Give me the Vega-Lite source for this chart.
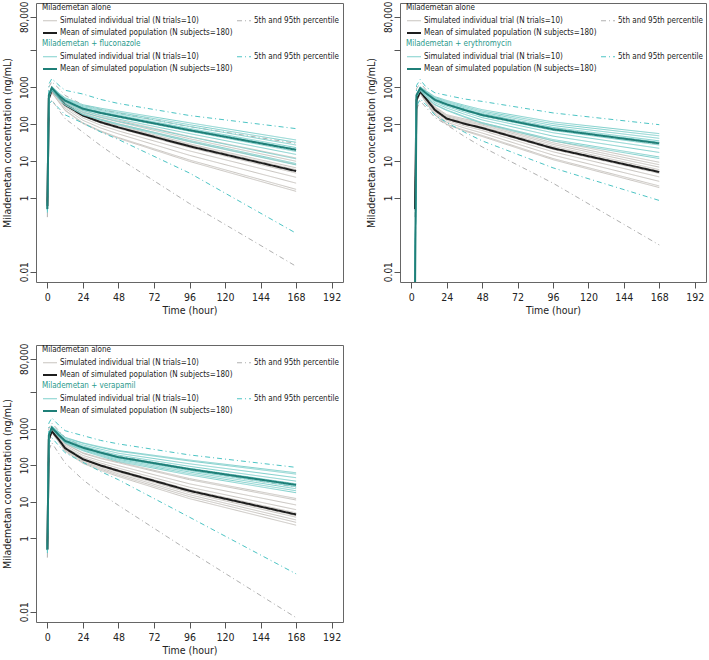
{
"$schema":"https://vega.github.io/schema/vega-lite/v6.json",
"padding":{"left":1,"top":0,"right":0,"bottom":0},
"bounds":"flush",
"columns":2,
"spacing":{"row":63,"column":57},
"resolve":{"scale":{"color":"independent","strokeDash":"independent","strokeWidth":"independent"}},
"config":{
"font":"'DejaVu Sans Condensed','Liberation Sans',sans-serif",
"view":{"stroke":"#666","strokeWidth":1},
"axis":{"grid":false,"domain":false,"tickColor":"#555","tickSize":6,"labelFontSize":10.5,"titleFontSize":10.5,"titleFontWeight":"normal","labelColor":"#222","titleColor":"#222","labelFont":"'DejaVu Sans Condensed','Liberation Sans',sans-serif","titleFont":"'DejaVu Sans Condensed','Liberation Sans',sans-serif"},
"legend":{"titleFontSize":8,"titleFontWeight":"normal","labelFontSize":8,"titleFont":"'DejaVu Sans Condensed','Liberation Sans',sans-serif","labelFont":"'DejaVu Sans Condensed','Liberation Sans',sans-serif","symbolType":"stroke","symbolSize":196,"columnPadding":2,"rowPadding":0,"titlePadding":1,"padding":0,"labelOffset":2,"labelColor":"#222","labelLimit":400,"titleLimit":400,"columns":2,"orient":"none"}
},
"datasets":{
"p1a":[
{"s":"a","k":"1","t":0,"c":0.65},{"s":"a","k":"1","t":1,"c":540},{"s":"a","k":"1","t":3,"c":960},{"s":"a","k":"1","t":8,"c":640},{"s":"a","k":"1","t":12,"c":422},{"s":"a","k":"1","t":24,"c":236},{"s":"a","k":"1","t":36,"c":165},{"s":"a","k":"1","t":48,"c":127},{"s":"a","k":"1","t":96,"c":46},{"s":"a","k":"1","t":168,"c":12},
{"s":"a","k":"2","t":0,"c":0.64},{"s":"a","k":"2","t":1,"c":532},{"s":"a","k":"2","t":3,"c":932},{"s":"a","k":"2","t":8,"c":606},{"s":"a","k":"2","t":12,"c":398},{"s":"a","k":"2","t":24,"c":217},{"s":"a","k":"2","t":36,"c":150},{"s":"a","k":"2","t":48,"c":114},{"s":"a","k":"2","t":96,"c":40},{"s":"a","k":"2","t":168,"c":9.8},
{"s":"a","k":"3","t":0,"c":0.63},{"s":"a","k":"3","t":1,"c":521},{"s":"a","k":"3","t":3,"c":904},{"s":"a","k":"3","t":8,"c":576},{"s":"a","k":"3","t":12,"c":375},{"s":"a","k":"3","t":24,"c":200},{"s":"a","k":"3","t":36,"c":136},{"s":"a","k":"3","t":48,"c":102},{"s":"a","k":"3","t":96,"c":34},{"s":"a","k":"3","t":168,"c":8},
{"s":"a","k":"4","t":0,"c":0.61},{"s":"a","k":"4","t":1,"c":510},{"s":"a","k":"4","t":3,"c":876},{"s":"a","k":"4","t":8,"c":547},{"s":"a","k":"4","t":12,"c":354},{"s":"a","k":"4","t":24,"c":185},{"s":"a","k":"4","t":36,"c":123},{"s":"a","k":"4","t":48,"c":91},{"s":"a","k":"4","t":96,"c":29},{"s":"a","k":"4","t":168,"c":6.5},
{"s":"a","k":"5","t":0,"c":0.6},{"s":"a","k":"5","t":1,"c":505},{"s":"a","k":"5","t":3,"c":862},{"s":"a","k":"5","t":8,"c":532},{"s":"a","k":"5","t":12,"c":342},{"s":"a","k":"5","t":24,"c":176},{"s":"a","k":"5","t":36,"c":117},{"s":"a","k":"5","t":48,"c":85},{"s":"a","k":"5","t":96,"c":27},{"s":"a","k":"5","t":168,"c":5.8},
{"s":"a","k":"6","t":0,"c":0.59},{"s":"a","k":"6","t":1,"c":494},{"s":"a","k":"6","t":3,"c":835},{"s":"a","k":"6","t":8,"c":505},{"s":"a","k":"6","t":12,"c":322},{"s":"a","k":"6","t":24,"c":162},{"s":"a","k":"6","t":36,"c":106},{"s":"a","k":"6","t":48,"c":76},{"s":"a","k":"6","t":96,"c":23},{"s":"a","k":"6","t":168,"c":4.7},
{"s":"a","k":"7","t":0,"c":0.58},{"s":"a","k":"7","t":1,"c":481},{"s":"a","k":"7","t":3,"c":802},{"s":"a","k":"7","t":8,"c":472},{"s":"a","k":"7","t":12,"c":297},{"s":"a","k":"7","t":24,"c":146},{"s":"a","k":"7","t":36,"c":93},{"s":"a","k":"7","t":48,"c":65},{"s":"a","k":"7","t":96,"c":18.7},{"s":"a","k":"7","t":168,"c":3.6},
{"s":"a","k":"8","t":0,"c":0.56},{"s":"a","k":"8","t":1,"c":464},{"s":"a","k":"8","t":3,"c":760},{"s":"a","k":"8","t":8,"c":431},{"s":"a","k":"8","t":12,"c":268},{"s":"a","k":"8","t":24,"c":126},{"s":"a","k":"8","t":36,"c":78},{"s":"a","k":"8","t":48,"c":54},{"s":"a","k":"8","t":96,"c":14.2},{"s":"a","k":"8","t":168,"c":2.5},
{"s":"a","k":"9","t":0,"c":0.54},{"s":"a","k":"9","t":1,"c":447},{"s":"a","k":"9","t":3,"c":717},{"s":"a","k":"9","t":8,"c":392},{"s":"a","k":"9","t":12,"c":239},{"s":"a","k":"9","t":24,"c":108},{"s":"a","k":"9","t":36,"c":65},{"s":"a","k":"9","t":48,"c":43},{"s":"a","k":"9","t":96,"c":10.6},{"s":"a","k":"9","t":168,"c":1.7},
{"s":"a","k":"10","t":0,"c":0.53},{"s":"a","k":"10","t":1,"c":441},{"s":"a","k":"10","t":3,"c":704},{"s":"a","k":"10","t":8,"c":379},{"s":"a","k":"10","t":12,"c":231},{"s":"a","k":"10","t":24,"c":103},{"s":"a","k":"10","t":36,"c":62},{"s":"a","k":"10","t":48,"c":41},{"s":"a","k":"10","t":96,"c":9.7},{"s":"a","k":"10","t":168,"c":1.5},
{"s":"b","k":"l","t":0,"c":0.3},{"s":"b","k":"l","t":1,"c":300},{"s":"b","k":"l","t":3,"c":450},{"s":"b","k":"l","t":8,"c":230},{"s":"b","k":"l","t":12,"c":140},{"s":"b","k":"l","t":24,"c":60},{"s":"b","k":"l","t":36,"c":26},{"s":"b","k":"l","t":48,"c":12},{"s":"b","k":"l","t":96,"c":0.7},{"s":"b","k":"l","t":168,"c":0.014},
{"s":"b","k":"h","t":0,"c":1.2},{"s":"b","k":"h","t":1,"c":1000},{"s":"b","k":"h","t":3,"c":1400},{"s":"b","k":"h","t":8,"c":900},{"s":"b","k":"h","t":12,"c":595},{"s":"b","k":"h","t":24,"c":330},{"s":"b","k":"h","t":36,"c":247},{"s":"b","k":"h","t":48,"c":200},{"s":"b","k":"h","t":96,"c":85},{"s":"b","k":"h","t":168,"c":30},
{"s":"c","k":"m","t":0,"c":0.6},{"s":"c","k":"m","t":1,"c":500},{"s":"c","k":"m","t":3,"c":850},{"s":"c","k":"m","t":8,"c":520},{"s":"c","k":"m","t":12,"c":333},{"s":"c","k":"m","t":24,"c":170},{"s":"c","k":"m","t":36,"c":112},{"s":"c","k":"m","t":48,"c":81},{"s":"c","k":"m","t":96,"c":25},{"s":"c","k":"m","t":168,"c":5.3}
],
"p1b":[
{"s":"a","k":"1","t":0,"c":0.53},{"s":"a","k":"1","t":1,"c":638},{"s":"a","k":"1","t":3,"c":1041},{"s":"a","k":"1","t":8,"c":677},{"s":"a","k":"1","t":12,"c":513},{"s":"a","k":"1","t":24,"c":333},{"s":"a","k":"1","t":36,"c":268},{"s":"a","k":"1","t":48,"c":224},{"s":"a","k":"1","t":96,"c":108},{"s":"a","k":"1","t":168,"c":37},
{"s":"a","k":"2","t":0,"c":0.52},{"s":"a","k":"2","t":1,"c":628},{"s":"a","k":"2","t":3,"c":1018},{"s":"a","k":"2","t":8,"c":651},{"s":"a","k":"2","t":12,"c":491},{"s":"a","k":"2","t":24,"c":313},{"s":"a","k":"2","t":36,"c":249},{"s":"a","k":"2","t":48,"c":206},{"s":"a","k":"2","t":96,"c":96},{"s":"a","k":"2","t":168,"c":32},
{"s":"a","k":"3","t":0,"c":0.52},{"s":"a","k":"3","t":1,"c":619},{"s":"a","k":"3","t":3,"c":995},{"s":"a","k":"3","t":8,"c":627},{"s":"a","k":"3","t":12,"c":470},{"s":"a","k":"3","t":24,"c":294},{"s":"a","k":"3","t":36,"c":232},{"s":"a","k":"3","t":48,"c":190},{"s":"a","k":"3","t":96,"c":86},{"s":"a","k":"3","t":168,"c":27},
{"s":"a","k":"4","t":0,"c":0.51},{"s":"a","k":"4","t":1,"c":610},{"s":"a","k":"4","t":3,"c":972},{"s":"a","k":"4","t":8,"c":603},{"s":"a","k":"4","t":12,"c":450},{"s":"a","k":"4","t":24,"c":277},{"s":"a","k":"4","t":36,"c":215},{"s":"a","k":"4","t":48,"c":174},{"s":"a","k":"4","t":96,"c":76},{"s":"a","k":"4","t":168,"c":23},
{"s":"a","k":"5","t":0,"c":0.5},{"s":"a","k":"5","t":1,"c":604},{"s":"a","k":"5","t":3,"c":960},{"s":"a","k":"5","t":8,"c":590},{"s":"a","k":"5","t":12,"c":438},{"s":"a","k":"5","t":24,"c":267},{"s":"a","k":"5","t":36,"c":207},{"s":"a","k":"5","t":48,"c":166},{"s":"a","k":"5","t":96,"c":72},{"s":"a","k":"5","t":168,"c":21},
{"s":"a","k":"6","t":0,"c":0.5},{"s":"a","k":"6","t":1,"c":595},{"s":"a","k":"6","t":3,"c":937},{"s":"a","k":"6","t":8,"c":567},{"s":"a","k":"6","t":12,"c":419},{"s":"a","k":"6","t":24,"c":251},{"s":"a","k":"6","t":36,"c":191},{"s":"a","k":"6","t":48,"c":152},{"s":"a","k":"6","t":96,"c":64},{"s":"a","k":"6","t":168,"c":18},
{"s":"a","k":"7","t":0,"c":0.49},{"s":"a","k":"7","t":1,"c":583},{"s":"a","k":"7","t":3,"c":909},{"s":"a","k":"7","t":8,"c":539},{"s":"a","k":"7","t":12,"c":395},{"s":"a","k":"7","t":24,"c":232},{"s":"a","k":"7","t":36,"c":174},{"s":"a","k":"7","t":48,"c":136},{"s":"a","k":"7","t":96,"c":55},{"s":"a","k":"7","t":168,"c":15},
{"s":"a","k":"8","t":0,"c":0.47},{"s":"a","k":"8","t":1,"c":566},{"s":"a","k":"8","t":3,"c":872},{"s":"a","k":"8","t":8,"c":503},{"s":"a","k":"8","t":12,"c":365},{"s":"a","k":"8","t":24,"c":208},{"s":"a","k":"8","t":36,"c":153},{"s":"a","k":"8","t":48,"c":118},{"s":"a","k":"8","t":96,"c":45},{"s":"a","k":"8","t":168,"c":11.4},
{"s":"a","k":"9","t":0,"c":0.46},{"s":"a","k":"9","t":1,"c":551},{"s":"a","k":"9","t":3,"c":836},{"s":"a","k":"9","t":8,"c":468},{"s":"a","k":"9","t":12,"c":336},{"s":"a","k":"9","t":24,"c":185},{"s":"a","k":"9","t":36,"c":133},{"s":"a","k":"9","t":48,"c":100},{"s":"a","k":"9","t":96,"c":36},{"s":"a","k":"9","t":168,"c":8.5},
{"s":"a","k":"10","t":0,"c":0.46},{"s":"a","k":"10","t":1,"c":546},{"s":"a","k":"10","t":3,"c":825},{"s":"a","k":"10","t":8,"c":458},{"s":"a","k":"10","t":12,"c":327},{"s":"a","k":"10","t":24,"c":178},{"s":"a","k":"10","t":36,"c":128},{"s":"a","k":"10","t":48,"c":95},{"s":"a","k":"10","t":96,"c":33},{"s":"a","k":"10","t":168,"c":7.8},
{"s":"b","k":"l","t":0,"c":0.4},{"s":"b","k":"l","t":1,"c":350},{"s":"b","k":"l","t":3,"c":420},{"s":"b","k":"l","t":8,"c":260},{"s":"b","k":"l","t":12,"c":177},{"s":"b","k":"l","t":24,"c":106},{"s":"b","k":"l","t":36,"c":61},{"s":"b","k":"l","t":48,"c":38},{"s":"b","k":"l","t":96,"c":4.7},{"s":"b","k":"l","t":168,"c":0.11},
{"s":"b","k":"h","t":0,"c":1.5},{"s":"b","k":"h","t":1,"c":1200},{"s":"b","k":"h","t":3,"c":1700},{"s":"b","k":"h","t":8,"c":1100},{"s":"b","k":"h","t":12,"c":820},{"s":"b","k":"h","t":24,"c":650},{"s":"b","k":"h","t":36,"c":464},{"s":"b","k":"h","t":48,"c":360},{"s":"b","k":"h","t":96,"c":170},{"s":"b","k":"h","t":168,"c":75},
{"s":"c","k":"m","t":0,"c":0.5},{"s":"c","k":"m","t":1,"c":600},{"s":"c","k":"m","t":3,"c":950},{"s":"c","k":"m","t":8,"c":580},{"s":"c","k":"m","t":12,"c":430},{"s":"c","k":"m","t":24,"c":260},{"s":"c","k":"m","t":36,"c":200},{"s":"c","k":"m","t":48,"c":160},{"s":"c","k":"m","t":96,"c":68},{"s":"c","k":"m","t":168,"c":20}
],
"p2a":[
{"s":"a","k":"1","t":2.5,"c":0.53},{"s":"a","k":"1","t":3.5,"c":479},{"s":"a","k":"1","t":6,"c":833},{"s":"a","k":"1","t":10,"c":560},{"s":"a","k":"1","t":16,"c":294},{"s":"a","k":"1","t":24,"c":179},{"s":"a","k":"1","t":36,"c":137},{"s":"a","k":"1","t":48,"c":109},{"s":"a","k":"1","t":96,"c":35},{"s":"a","k":"1","t":168,"c":9.2},
{"s":"a","k":"2","t":2.5,"c":0.52},{"s":"a","k":"2","t":3.5,"c":471},{"s":"a","k":"2","t":6,"c":815},{"s":"a","k":"2","t":10,"c":539},{"s":"a","k":"2","t":16,"c":279},{"s":"a","k":"2","t":24,"c":168},{"s":"a","k":"2","t":36,"c":127},{"s":"a","k":"2","t":48,"c":100},{"s":"a","k":"2","t":96,"c":31},{"s":"a","k":"2","t":168,"c":7.9},
{"s":"a","k":"3","t":2.5,"c":0.52},{"s":"a","k":"3","t":3.5,"c":464},{"s":"a","k":"3","t":6,"c":796},{"s":"a","k":"3","t":10,"c":519},{"s":"a","k":"3","t":16,"c":266},{"s":"a","k":"3","t":24,"c":158},{"s":"a","k":"3","t":36,"c":118},{"s":"a","k":"3","t":48,"c":93},{"s":"a","k":"3","t":96,"c":28},{"s":"a","k":"3","t":168,"c":6.8},
{"s":"a","k":"4","t":2.5,"c":0.51},{"s":"a","k":"4","t":3.5,"c":457},{"s":"a","k":"4","t":6,"c":777},{"s":"a","k":"4","t":10,"c":499},{"s":"a","k":"4","t":16,"c":252},{"s":"a","k":"4","t":24,"c":149},{"s":"a","k":"4","t":36,"c":110},{"s":"a","k":"4","t":48,"c":85},{"s":"a","k":"4","t":96,"c":25},{"s":"a","k":"4","t":168,"c":5.8},
{"s":"a","k":"5","t":2.5,"c":0.5},{"s":"a","k":"5","t":3.5,"c":453},{"s":"a","k":"5","t":6,"c":768},{"s":"a","k":"5","t":10,"c":488},{"s":"a","k":"5","t":16,"c":246},{"s":"a","k":"5","t":24,"c":144},{"s":"a","k":"5","t":36,"c":105},{"s":"a","k":"5","t":48,"c":81},{"s":"a","k":"5","t":96,"c":23},{"s":"a","k":"5","t":168,"c":5.3},
{"s":"a","k":"6","t":2.5,"c":0.5},{"s":"a","k":"6","t":3.5,"c":446},{"s":"a","k":"6","t":6,"c":749},{"s":"a","k":"6","t":10,"c":469},{"s":"a","k":"6","t":16,"c":233},{"s":"a","k":"6","t":24,"c":135},{"s":"a","k":"6","t":36,"c":98},{"s":"a","k":"6","t":48,"c":74},{"s":"a","k":"6","t":96,"c":20.6},{"s":"a","k":"6","t":168,"c":4.6},
{"s":"a","k":"7","t":2.5,"c":0.49},{"s":"a","k":"7","t":3.5,"c":437},{"s":"a","k":"7","t":6,"c":727},{"s":"a","k":"7","t":10,"c":446},{"s":"a","k":"7","t":16,"c":218},{"s":"a","k":"7","t":24,"c":125},{"s":"a","k":"7","t":36,"c":89},{"s":"a","k":"7","t":48,"c":67},{"s":"a","k":"7","t":96,"c":17.7},{"s":"a","k":"7","t":168,"c":3.7},
{"s":"a","k":"8","t":2.5,"c":0.47},{"s":"a","k":"8","t":3.5,"c":425},{"s":"a","k":"8","t":6,"c":698},{"s":"a","k":"8","t":10,"c":417},{"s":"a","k":"8","t":16,"c":199},{"s":"a","k":"8","t":24,"c":112},{"s":"a","k":"8","t":36,"c":78},{"s":"a","k":"8","t":48,"c":57},{"s":"a","k":"8","t":96,"c":14.4},{"s":"a","k":"8","t":168,"c":2.8},
{"s":"a","k":"9","t":2.5,"c":0.46},{"s":"a","k":"9","t":3.5,"c":413},{"s":"a","k":"9","t":6,"c":669},{"s":"a","k":"9","t":10,"c":387},{"s":"a","k":"9","t":16,"c":181},{"s":"a","k":"9","t":24,"c":99},{"s":"a","k":"9","t":36,"c":68},{"s":"a","k":"9","t":48,"c":49},{"s":"a","k":"9","t":96,"c":11.6},{"s":"a","k":"9","t":168,"c":2.1},
{"s":"a","k":"10","t":2.5,"c":0.46},{"s":"a","k":"10","t":3.5,"c":410},{"s":"a","k":"10","t":6,"c":660},{"s":"a","k":"10","t":10,"c":379},{"s":"a","k":"10","t":16,"c":175},{"s":"a","k":"10","t":24,"c":96},{"s":"a","k":"10","t":36,"c":65},{"s":"a","k":"10","t":48,"c":46},{"s":"a","k":"10","t":96,"c":10.8},{"s":"a","k":"10","t":168,"c":1.9},
{"s":"b","k":"l","t":2.5,"c":0.3},{"s":"b","k":"l","t":3.5,"c":250},{"s":"b","k":"l","t":6,"c":420},{"s":"b","k":"l","t":10,"c":280},{"s":"b","k":"l","t":16,"c":150},{"s":"b","k":"l","t":24,"c":95},{"s":"b","k":"l","t":36,"c":46},{"s":"b","k":"l","t":48,"c":24},{"s":"b","k":"l","t":96,"c":2.5},{"s":"b","k":"l","t":168,"c":0.053},
{"s":"b","k":"h","t":2.5,"c":1},{"s":"b","k":"h","t":3.5,"c":900},{"s":"b","k":"h","t":6,"c":1300},{"s":"b","k":"h","t":10,"c":850},{"s":"b","k":"h","t":16,"c":481},{"s":"b","k":"h","t":24,"c":330},{"s":"b","k":"h","t":36,"c":240},{"s":"b","k":"h","t":48,"c":190},{"s":"b","k":"h","t":96,"c":80},{"s":"b","k":"h","t":168,"c":28},
{"s":"c","k":"m","t":2.5,"c":0.5},{"s":"c","k":"m","t":3.5,"c":450},{"s":"c","k":"m","t":6,"c":760},{"s":"c","k":"m","t":10,"c":480},{"s":"c","k":"m","t":16,"c":240},{"s":"c","k":"m","t":24,"c":140},{"s":"c","k":"m","t":36,"c":102},{"s":"c","k":"m","t":48,"c":78},{"s":"c","k":"m","t":96,"c":22},{"s":"c","k":"m","t":168,"c":5}
],
"p2b":[
{"s":"a","k":"1","t":2.5,"c":0.003},{"s":"a","k":"1","t":3.5,"c":638},{"s":"a","k":"1","t":6,"c":1019},{"s":"a","k":"1","t":10,"c":794},{"s":"a","k":"1","t":16,"c":551},{"s":"a","k":"1","t":24,"c":435},{"s":"a","k":"1","t":36,"c":322},{"s":"a","k":"1","t":48,"c":245},{"s":"a","k":"1","t":96,"c":114},{"s":"a","k":"1","t":168,"c":55},
{"s":"a","k":"2","t":2.5,"c":0.003},{"s":"a","k":"2","t":3.5,"c":628},{"s":"a","k":"2","t":6,"c":997},{"s":"a","k":"2","t":10,"c":763},{"s":"a","k":"2","t":16,"c":524},{"s":"a","k":"2","t":24,"c":409},{"s":"a","k":"2","t":36,"c":299},{"s":"a","k":"2","t":48,"c":225},{"s":"a","k":"2","t":96,"c":102},{"s":"a","k":"2","t":168,"c":48},
{"s":"a","k":"3","t":2.5,"c":0.003},{"s":"a","k":"3","t":3.5,"c":619},{"s":"a","k":"3","t":6,"c":974},{"s":"a","k":"3","t":10,"c":735},{"s":"a","k":"3","t":16,"c":498},{"s":"a","k":"3","t":24,"c":385},{"s":"a","k":"3","t":36,"c":278},{"s":"a","k":"3","t":48,"c":208},{"s":"a","k":"3","t":96,"c":91},{"s":"a","k":"3","t":168,"c":41},
{"s":"a","k":"4","t":2.5,"c":0.003},{"s":"a","k":"4","t":3.5,"c":610},{"s":"a","k":"4","t":6,"c":951},{"s":"a","k":"4","t":10,"c":707},{"s":"a","k":"4","t":16,"c":473},{"s":"a","k":"4","t":24,"c":362},{"s":"a","k":"4","t":36,"c":258},{"s":"a","k":"4","t":48,"c":191},{"s":"a","k":"4","t":96,"c":81},{"s":"a","k":"4","t":168,"c":35},
{"s":"a","k":"5","t":2.5,"c":0.003},{"s":"a","k":"5","t":3.5,"c":604},{"s":"a","k":"5","t":6,"c":939},{"s":"a","k":"5","t":10,"c":692},{"s":"a","k":"5","t":16,"c":460},{"s":"a","k":"5","t":24,"c":350},{"s":"a","k":"5","t":36,"c":248},{"s":"a","k":"5","t":48,"c":182},{"s":"a","k":"5","t":96,"c":76},{"s":"a","k":"5","t":168,"c":32},
{"s":"a","k":"6","t":2.5,"c":0.003},{"s":"a","k":"6","t":3.5,"c":595},{"s":"a","k":"6","t":6,"c":917},{"s":"a","k":"6","t":10,"c":664},{"s":"a","k":"6","t":16,"c":437},{"s":"a","k":"6","t":24,"c":328},{"s":"a","k":"6","t":36,"c":230},{"s":"a","k":"6","t":48,"c":166},{"s":"a","k":"6","t":96,"c":67},{"s":"a","k":"6","t":168,"c":27},
{"s":"a","k":"7","t":2.5,"c":0.003},{"s":"a","k":"7","t":3.5,"c":583},{"s":"a","k":"7","t":6,"c":890},{"s":"a","k":"7","t":10,"c":632},{"s":"a","k":"7","t":16,"c":409},{"s":"a","k":"7","t":24,"c":303},{"s":"a","k":"7","t":36,"c":209},{"s":"a","k":"7","t":48,"c":149},{"s":"a","k":"7","t":96,"c":58},{"s":"a","k":"7","t":168,"c":22},
{"s":"a","k":"8","t":2.5,"c":0.003},{"s":"a","k":"8","t":3.5,"c":566},{"s":"a","k":"8","t":6,"c":854},{"s":"a","k":"8","t":10,"c":590},{"s":"a","k":"8","t":16,"c":374},{"s":"a","k":"8","t":24,"c":272},{"s":"a","k":"8","t":36,"c":184},{"s":"a","k":"8","t":48,"c":129},{"s":"a","k":"8","t":96,"c":47},{"s":"a","k":"8","t":168,"c":17},
{"s":"a","k":"9","t":2.5,"c":0.003},{"s":"a","k":"9","t":3.5,"c":551},{"s":"a","k":"9","t":6,"c":818},{"s":"a","k":"9","t":10,"c":549},{"s":"a","k":"9","t":16,"c":340},{"s":"a","k":"9","t":24,"c":241},{"s":"a","k":"9","t":36,"c":160},{"s":"a","k":"9","t":48,"c":109},{"s":"a","k":"9","t":96,"c":38},{"s":"a","k":"9","t":168,"c":12.8},
{"s":"a","k":"10","t":2.5,"c":0.003},{"s":"a","k":"10","t":3.5,"c":546},{"s":"a","k":"10","t":6,"c":807},{"s":"a","k":"10","t":10,"c":537},{"s":"a","k":"10","t":16,"c":329},{"s":"a","k":"10","t":24,"c":233},{"s":"a","k":"10","t":36,"c":153},{"s":"a","k":"10","t":48,"c":104},{"s":"a","k":"10","t":96,"c":35},{"s":"a","k":"10","t":168,"c":11.6},
{"s":"b","k":"l","t":2.5,"c":0.001},{"s":"b","k":"l","t":3.5,"c":300},{"s":"b","k":"l","t":6,"c":480},{"s":"b","k":"l","t":10,"c":330},{"s":"b","k":"l","t":16,"c":175},{"s":"b","k":"l","t":24,"c":110},{"s":"b","k":"l","t":36,"c":60},{"s":"b","k":"l","t":48,"c":35},{"s":"b","k":"l","t":96,"c":6.5},{"s":"b","k":"l","t":168,"c":0.85},
{"s":"b","k":"h","t":2.5,"c":0.003},{"s":"b","k":"h","t":3.5,"c":1100},{"s":"b","k":"h","t":6,"c":1600},{"s":"b","k":"h","t":10,"c":1000},{"s":"b","k":"h","t":16,"c":700},{"s":"b","k":"h","t":24,"c":600},{"s":"b","k":"h","t":36,"c":476},{"s":"b","k":"h","t":48,"c":410},{"s":"b","k":"h","t":96,"c":200},{"s":"b","k":"h","t":168,"c":96},
{"s":"c","k":"m","t":2.5,"c":0.003},{"s":"c","k":"m","t":3.5,"c":600},{"s":"c","k":"m","t":6,"c":930},{"s":"c","k":"m","t":10,"c":680},{"s":"c","k":"m","t":16,"c":450},{"s":"c","k":"m","t":24,"c":340},{"s":"c","k":"m","t":36,"c":240},{"s":"c","k":"m","t":48,"c":175},{"s":"c","k":"m","t":96,"c":72},{"s":"c","k":"m","t":168,"c":30}
],
"p3a":[
{"s":"a","k":"1","t":0,"c":0.47},{"s":"a","k":"1","t":1,"c":469},{"s":"a","k":"1","t":3,"c":772},{"s":"a","k":"1","t":8,"c":408},{"s":"a","k":"1","t":12,"c":240},{"s":"a","k":"1","t":24,"c":112},{"s":"a","k":"1","t":36,"c":72},{"s":"a","k":"1","t":48,"c":49},{"s":"a","k":"1","t":96,"c":12.2},{"s":"a","k":"1","t":168,"c":2.3},
{"s":"a","k":"2","t":0,"c":0.48},{"s":"a","k":"2","t":1,"c":476},{"s":"a","k":"2","t":3,"c":790},{"s":"a","k":"2","t":8,"c":424},{"s":"a","k":"2","t":12,"c":251},{"s":"a","k":"2","t":24,"c":119},{"s":"a","k":"2","t":36,"c":78},{"s":"a","k":"2","t":48,"c":53},{"s":"a","k":"2","t":96,"c":13.8},{"s":"a","k":"2","t":168,"c":2.75},
{"s":"a","k":"3","t":0,"c":0.48},{"s":"a","k":"3","t":1,"c":484},{"s":"a","k":"3","t":3,"c":808},{"s":"a","k":"3","t":8,"c":442},{"s":"a","k":"3","t":12,"c":263},{"s":"a","k":"3","t":24,"c":127},{"s":"a","k":"3","t":36,"c":84},{"s":"a","k":"3","t":48,"c":58},{"s":"a","k":"3","t":96,"c":15.6},{"s":"a","k":"3","t":168,"c":3.2},
{"s":"a","k":"4","t":0,"c":0.49},{"s":"a","k":"4","t":1,"c":492},{"s":"a","k":"4","t":3,"c":830},{"s":"a","k":"4","t":8,"c":460},{"s":"a","k":"4","t":12,"c":276},{"s":"a","k":"4","t":24,"c":136},{"s":"a","k":"4","t":36,"c":91},{"s":"a","k":"4","t":48,"c":64},{"s":"a","k":"4","t":96,"c":17.7},{"s":"a","k":"4","t":168,"c":3.8},
{"s":"a","k":"5","t":0,"c":0.5},{"s":"a","k":"5","t":1,"c":497},{"s":"a","k":"5","t":3,"c":841},{"s":"a","k":"5","t":8,"c":471},{"s":"a","k":"5","t":12,"c":284},{"s":"a","k":"5","t":24,"c":141},{"s":"a","k":"5","t":36,"c":95},{"s":"a","k":"5","t":48,"c":67},{"s":"a","k":"5","t":96,"c":19},{"s":"a","k":"5","t":168,"c":4.2},
{"s":"a","k":"6","t":0,"c":0.5},{"s":"a","k":"6","t":1,"c":505},{"s":"a","k":"6","t":3,"c":862},{"s":"a","k":"6","t":8,"c":491},{"s":"a","k":"6","t":12,"c":298},{"s":"a","k":"6","t":24,"c":151},{"s":"a","k":"6","t":36,"c":103},{"s":"a","k":"6","t":48,"c":74},{"s":"a","k":"6","t":96,"c":21.5},{"s":"a","k":"6","t":168,"c":5},
{"s":"a","k":"7","t":0,"c":0.52},{"s":"a","k":"7","t":1,"c":517},{"s":"a","k":"7","t":3,"c":890},{"s":"a","k":"7","t":8,"c":519},{"s":"a","k":"7","t":12,"c":317},{"s":"a","k":"7","t":24,"c":164},{"s":"a","k":"7","t":36,"c":114},{"s":"a","k":"7","t":48,"c":83},{"s":"a","k":"7","t":96,"c":25},{"s":"a","k":"7","t":168,"c":6.1},
{"s":"a","k":"8","t":0,"c":0.53},{"s":"a","k":"8","t":1,"c":531},{"s":"a","k":"8","t":3,"c":930},{"s":"a","k":"8","t":8,"c":559},{"s":"a","k":"8","t":12,"c":345},{"s":"a","k":"8","t":24,"c":184},{"s":"a","k":"8","t":36,"c":130},{"s":"a","k":"8","t":48,"c":97},{"s":"a","k":"8","t":96,"c":31},{"s":"a","k":"8","t":168,"c":8.2},
{"s":"a","k":"9","t":0,"c":0.55},{"s":"a","k":"9","t":1,"c":547},{"s":"a","k":"9","t":3,"c":974},{"s":"a","k":"9","t":8,"c":603},{"s":"a","k":"9","t":12,"c":378},{"s":"a","k":"9","t":24,"c":209},{"s":"a","k":"9","t":36,"c":151},{"s":"a","k":"9","t":48,"c":116},{"s":"a","k":"9","t":96,"c":40},{"s":"a","k":"9","t":168,"c":11.2},
{"s":"a","k":"10","t":0,"c":0.55},{"s":"a","k":"10","t":1,"c":554},{"s":"a","k":"10","t":3,"c":989},{"s":"a","k":"10","t":8,"c":618},{"s":"a","k":"10","t":12,"c":389},{"s":"a","k":"10","t":24,"c":217},{"s":"a","k":"10","t":36,"c":158},{"s":"a","k":"10","t":48,"c":122},{"s":"a","k":"10","t":96,"c":43},{"s":"a","k":"10","t":168,"c":12.3},
{"s":"b","k":"l","t":0,"c":0.3},{"s":"b","k":"l","t":1,"c":250},{"s":"b","k":"l","t":3,"c":410},{"s":"b","k":"l","t":8,"c":200},{"s":"b","k":"l","t":12,"c":114},{"s":"b","k":"l","t":24,"c":40},{"s":"b","k":"l","t":36,"c":17},{"s":"b","k":"l","t":48,"c":8},{"s":"b","k":"l","t":96,"c":0.45},{"s":"b","k":"l","t":168,"c":0.0069},
{"s":"b","k":"h","t":0,"c":1},{"s":"b","k":"h","t":1,"c":1000},{"s":"b","k":"h","t":3,"c":1400},{"s":"b","k":"h","t":8,"c":850},{"s":"b","k":"h","t":12,"c":566},{"s":"b","k":"h","t":24,"c":320},{"s":"b","k":"h","t":36,"c":230},{"s":"b","k":"h","t":48,"c":180},{"s":"b","k":"h","t":96,"c":75},{"s":"b","k":"h","t":168,"c":25},
{"s":"c","k":"m","t":0,"c":0.5},{"s":"c","k":"m","t":1,"c":500},{"s":"c","k":"m","t":3,"c":850},{"s":"c","k":"m","t":8,"c":480},{"s":"c","k":"m","t":12,"c":290},{"s":"c","k":"m","t":24,"c":145},{"s":"c","k":"m","t":36,"c":98},{"s":"c","k":"m","t":48,"c":70},{"s":"c","k":"m","t":96,"c":20},{"s":"c","k":"m","t":168,"c":4.5}
],
"p3b":[
{"s":"a","k":"1","t":0,"c":0.48},{"s":"a","k":"1","t":1,"c":619},{"s":"a","k":"1","t":3,"c":975},{"s":"a","k":"1","t":8,"c":575},{"s":"a","k":"1","t":12,"c":399},{"s":"a","k":"1","t":24,"c":247},{"s":"a","k":"1","t":36,"c":174},{"s":"a","k":"1","t":48,"c":126},{"s":"a","k":"1","t":96,"c":54},{"s":"a","k":"1","t":168,"c":17.7},
{"s":"a","k":"2","t":0,"c":0.48},{"s":"a","k":"2","t":1,"c":627},{"s":"a","k":"2","t":3,"c":993},{"s":"a","k":"2","t":8,"c":593},{"s":"a","k":"2","t":12,"c":414},{"s":"a","k":"2","t":24,"c":259},{"s":"a","k":"2","t":36,"c":185},{"s":"a","k":"2","t":48,"c":135},{"s":"a","k":"2","t":96,"c":59},{"s":"a","k":"2","t":168,"c":20},
{"s":"a","k":"3","t":0,"c":0.49},{"s":"a","k":"3","t":1,"c":634},{"s":"a","k":"3","t":3,"c":1012},{"s":"a","k":"3","t":8,"c":611},{"s":"a","k":"3","t":12,"c":428},{"s":"a","k":"3","t":24,"c":272},{"s":"a","k":"3","t":36,"c":196},{"s":"a","k":"3","t":48,"c":144},{"s":"a","k":"3","t":96,"c":65},{"s":"a","k":"3","t":168,"c":22.7},
{"s":"a","k":"4","t":0,"c":0.49},{"s":"a","k":"4","t":1,"c":642},{"s":"a","k":"4","t":3,"c":1031},{"s":"a","k":"4","t":8,"c":631},{"s":"a","k":"4","t":12,"c":444},{"s":"a","k":"4","t":24,"c":285},{"s":"a","k":"4","t":36,"c":208},{"s":"a","k":"4","t":48,"c":154},{"s":"a","k":"4","t":96,"c":71},{"s":"a","k":"4","t":168,"c":25.7},
{"s":"a","k":"5","t":0,"c":0.5},{"s":"a","k":"5","t":1,"c":647},{"s":"a","k":"5","t":3,"c":1041},{"s":"a","k":"5","t":8,"c":641},{"s":"a","k":"5","t":12,"c":453},{"s":"a","k":"5","t":24,"c":293},{"s":"a","k":"5","t":36,"c":215},{"s":"a","k":"5","t":48,"c":160},{"s":"a","k":"5","t":96,"c":75},{"s":"a","k":"5","t":168,"c":27.5},
{"s":"a","k":"6","t":0,"c":0.5},{"s":"a","k":"6","t":1,"c":655},{"s":"a","k":"6","t":3,"c":1063},{"s":"a","k":"6","t":8,"c":662},{"s":"a","k":"6","t":12,"c":470},{"s":"a","k":"6","t":24,"c":309},{"s":"a","k":"6","t":36,"c":228},{"s":"a","k":"6","t":48,"c":172},{"s":"a","k":"6","t":96,"c":82},{"s":"a","k":"6","t":168,"c":31},
{"s":"a","k":"7","t":0,"c":0.51},{"s":"a","k":"7","t":1,"c":665},{"s":"a","k":"7","t":3,"c":1087},{"s":"a","k":"7","t":8,"c":688},{"s":"a","k":"7","t":12,"c":492},{"s":"a","k":"7","t":24,"c":329},{"s":"a","k":"7","t":36,"c":246},{"s":"a","k":"7","t":48,"c":187},{"s":"a","k":"7","t":96,"c":93},{"s":"a","k":"7","t":168,"c":36.6},
{"s":"a","k":"8","t":0,"c":0.52},{"s":"a","k":"8","t":1,"c":681},{"s":"a","k":"8","t":3,"c":1122},{"s":"a","k":"8","t":8,"c":728},{"s":"a","k":"8","t":12,"c":524},{"s":"a","k":"8","t":24,"c":359},{"s":"a","k":"8","t":36,"c":273},{"s":"a","k":"8","t":48,"c":211},{"s":"a","k":"8","t":96,"c":109},{"s":"a","k":"8","t":168,"c":45.5},
{"s":"a","k":"9","t":0,"c":0.53},{"s":"a","k":"9","t":1,"c":695},{"s":"a","k":"9","t":3,"c":1162},{"s":"a","k":"9","t":8,"c":771},{"s":"a","k":"9","t":12,"c":561},{"s":"a","k":"9","t":24,"c":395},{"s":"a","k":"9","t":36,"c":304},{"s":"a","k":"9","t":48,"c":240},{"s":"a","k":"9","t":96,"c":130},{"s":"a","k":"9","t":168,"c":57},
{"s":"a","k":"10","t":0,"c":0.54},{"s":"a","k":"10","t":1,"c":701},{"s":"a","k":"10","t":3,"c":1176},{"s":"a","k":"10","t":8,"c":785},{"s":"a","k":"10","t":12,"c":573},{"s":"a","k":"10","t":24,"c":406},{"s":"a","k":"10","t":36,"c":315},{"s":"a","k":"10","t":48,"c":250},{"s":"a","k":"10","t":96,"c":138},{"s":"a","k":"10","t":168,"c":62},
{"s":"b","k":"l","t":0,"c":0.4},{"s":"b","k":"l","t":1,"c":380},{"s":"b","k":"l","t":3,"c":560},{"s":"b","k":"l","t":8,"c":330},{"s":"b","k":"l","t":12,"c":218},{"s":"b","k":"l","t":24,"c":120},{"s":"b","k":"l","t":36,"c":67},{"s":"b","k":"l","t":48,"c":40},{"s":"b","k":"l","t":96,"c":3.8},{"s":"b","k":"l","t":168,"c":0.108},
{"s":"b","k":"h","t":0,"c":1.5},{"s":"b","k":"h","t":1,"c":1400},{"s":"b","k":"h","t":3,"c":1950},{"s":"b","k":"h","t":8,"c":1200},{"s":"b","k":"h","t":12,"c":871},{"s":"b","k":"h","t":24,"c":640},{"s":"b","k":"h","t":36,"c":473},{"s":"b","k":"h","t":48,"c":380},{"s":"b","k":"h","t":96,"c":190},{"s":"b","k":"h","t":168,"c":87},
{"s":"c","k":"m","t":0,"c":0.5},{"s":"c","k":"m","t":1,"c":650},{"s":"c","k":"m","t":3,"c":1050},{"s":"c","k":"m","t":8,"c":650},{"s":"c","k":"m","t":12,"c":460},{"s":"c","k":"m","t":24,"c":300},{"s":"c","k":"m","t":36,"c":220},{"s":"c","k":"m","t":48,"c":165},{"s":"c","k":"m","t":96,"c":78},{"s":"c","k":"m","t":168,"c":29}
]
},
"concat":[
{
"width":307,"height":279,
"encoding":{
"x":{"field":"t","type":"quantitative","scale":{"domain":[-7.68,199.68],"nice":false,"zero":false},"axis":{"values":[0,24,48,72,96,120,144,168,192],"title":"Time (hour)","labelPadding":4,"titlePadding":3}},
"y":{"field":"c","type":"quantitative","scale":{"type":"log","domain":[0.00525,190000],"nice":false},"axis":{"values":[0.01,1,10,100,1000,10000,80000],"labelExpr":"datum.value == 10000 ? '' : datum.value == 80000 ? '80,000' : datum.value == 0.01 ? '0.01' : format(datum.value, 'd')","labelAngle":270,"labelAlign":"center","labelBaseline":"bottom","labelPadding":1,"labelFontSize":10,"title":"Milademetan concentration (ng/mL)","titlePadding":7}},
"detail":{"field":"k"}
},
"layer":[
{"data":{"name":"p1a"},"mark":{"type":"line","clip":true},"encoding":{
"color":{"field":"s","type":"nominal","scale":{"domain":["a","c","b"],"range":["#c8c4bf","#1e1e1e","#b0b0b0"]},"legend":{"title":"Milademetan alone","titleColor":"#222","legendX":6,"legendY":1,"labelExpr":"datum.label == 'a' ? 'Simulated individual trial (N trials=10)' : datum.label == 'b' ? '5th and 95th percentile' : 'Mean of simulated population (N subjects=180)'"}},
"strokeDash":{"field":"s","type":"nominal","scale":{"domain":["a","c","b"],"range":[[1,0],[1,0],[5,3,1,3]]},"legend":{"title":"Milademetan alone","titleColor":"#222","legendX":6,"legendY":1,"labelExpr":"datum.label == 'a' ? 'Simulated individual trial (N trials=10)' : datum.label == 'b' ? '5th and 95th percentile' : 'Mean of simulated population (N subjects=180)'"}},
"strokeWidth":{"field":"s","type":"nominal","scale":{"type":"ordinal","domain":["a","c","b"],"range":[1,2,1]},"legend":{"title":"Milademetan alone","titleColor":"#222","legendX":6,"legendY":1,"labelExpr":"datum.label == 'a' ? 'Simulated individual trial (N trials=10)' : datum.label == 'b' ? '5th and 95th percentile' : 'Mean of simulated population (N subjects=180)'"}}
}},
{"data":{"name":"p1b"},"mark":{"type":"line","clip":true},"encoding":{
"color":{"field":"s","type":"nominal","scale":{"domain":["a","c","b"],"range":["#7fd0cc","#1f7f78","#4cc4c4"]},"legend":{"title":"Milademetan + fluconazole","titleColor":"#2a998c","legendX":6,"legendY":37,"labelExpr":"datum.label == 'a' ? 'Simulated individual trial (N trials=10)' : datum.label == 'b' ? '5th and 95th percentile' : 'Mean of simulated population (N subjects=180)'"}},
"strokeDash":{"field":"s","type":"nominal","scale":{"domain":["a","c","b"],"range":[[1,0],[1,0],[5,3,1,3]]},"legend":{"title":"Milademetan + fluconazole","titleColor":"#2a998c","legendX":6,"legendY":37,"labelExpr":"datum.label == 'a' ? 'Simulated individual trial (N trials=10)' : datum.label == 'b' ? '5th and 95th percentile' : 'Mean of simulated population (N subjects=180)'"}},
"strokeWidth":{"field":"s","type":"nominal","scale":{"type":"ordinal","domain":["a","c","b"],"range":[1,2,1]},"legend":{"title":"Milademetan + fluconazole","titleColor":"#2a998c","legendX":6,"legendY":37,"labelExpr":"datum.label == 'a' ? 'Simulated individual trial (N trials=10)' : datum.label == 'b' ? '5th and 95th percentile' : 'Mean of simulated population (N subjects=180)'"}}
}}
],
"resolve":{"scale":{"color":"independent","strokeDash":"independent","strokeWidth":"independent"}}
},
{
"width":306,"height":279,
"encoding":{
"x":{"field":"t","type":"quantitative","scale":{"domain":[-7.68,199.68],"nice":false,"zero":false},"axis":{"values":[0,24,48,72,96,120,144,168,192],"title":"Time (hour)","labelPadding":4,"titlePadding":3}},
"y":{"field":"c","type":"quantitative","scale":{"type":"log","domain":[0.00525,190000],"nice":false},"axis":{"values":[0.01,1,10,100,1000,10000,80000],"labelExpr":"datum.value == 10000 ? '' : datum.value == 80000 ? '80,000' : datum.value == 0.01 ? '0.01' : format(datum.value, 'd')","labelAngle":270,"labelAlign":"center","labelBaseline":"bottom","labelPadding":1,"labelFontSize":10,"title":"Milademetan concentration (ng/mL)","titlePadding":7}},
"detail":{"field":"k"}
},
"layer":[
{"data":{"name":"p2a"},"mark":{"type":"line","clip":true},"encoding":{
"color":{"field":"s","type":"nominal","scale":{"domain":["a","c","b"],"range":["#c8c4bf","#1e1e1e","#b0b0b0"]},"legend":{"title":"Milademetan alone","titleColor":"#222","legendX":6,"legendY":1,"labelExpr":"datum.label == 'a' ? 'Simulated individual trial (N trials=10)' : datum.label == 'b' ? '5th and 95th percentile' : 'Mean of simulated population (N subjects=180)'"}},
"strokeDash":{"field":"s","type":"nominal","scale":{"domain":["a","c","b"],"range":[[1,0],[1,0],[5,3,1,3]]},"legend":{"title":"Milademetan alone","titleColor":"#222","legendX":6,"legendY":1,"labelExpr":"datum.label == 'a' ? 'Simulated individual trial (N trials=10)' : datum.label == 'b' ? '5th and 95th percentile' : 'Mean of simulated population (N subjects=180)'"}},
"strokeWidth":{"field":"s","type":"nominal","scale":{"type":"ordinal","domain":["a","c","b"],"range":[1,2,1]},"legend":{"title":"Milademetan alone","titleColor":"#222","legendX":6,"legendY":1,"labelExpr":"datum.label == 'a' ? 'Simulated individual trial (N trials=10)' : datum.label == 'b' ? '5th and 95th percentile' : 'Mean of simulated population (N subjects=180)'"}}
}},
{"data":{"name":"p2b"},"mark":{"type":"line","clip":true},"encoding":{
"color":{"field":"s","type":"nominal","scale":{"domain":["a","c","b"],"range":["#7fd0cc","#1f7f78","#4cc4c4"]},"legend":{"title":"Milademetan + erythromycin","titleColor":"#2a998c","legendX":6,"legendY":37,"labelExpr":"datum.label == 'a' ? 'Simulated individual trial (N trials=10)' : datum.label == 'b' ? '5th and 95th percentile' : 'Mean of simulated population (N subjects=180)'"}},
"strokeDash":{"field":"s","type":"nominal","scale":{"domain":["a","c","b"],"range":[[1,0],[1,0],[5,3,1,3]]},"legend":{"title":"Milademetan + erythromycin","titleColor":"#2a998c","legendX":6,"legendY":37,"labelExpr":"datum.label == 'a' ? 'Simulated individual trial (N trials=10)' : datum.label == 'b' ? '5th and 95th percentile' : 'Mean of simulated population (N subjects=180)'"}},
"strokeWidth":{"field":"s","type":"nominal","scale":{"type":"ordinal","domain":["a","c","b"],"range":[1,2,1]},"legend":{"title":"Milademetan + erythromycin","titleColor":"#2a998c","legendX":6,"legendY":37,"labelExpr":"datum.label == 'a' ? 'Simulated individual trial (N trials=10)' : datum.label == 'b' ? '5th and 95th percentile' : 'Mean of simulated population (N subjects=180)'"}}
}}
],
"resolve":{"scale":{"color":"independent","strokeDash":"independent","strokeWidth":"independent"}}
},
{
"width":307,"height":277,
"encoding":{
"x":{"field":"t","type":"quantitative","scale":{"domain":[-7.68,199.68],"nice":false,"zero":false},"axis":{"values":[0,24,48,72,96,120,144,168,192],"title":"Time (hour)","labelPadding":4,"titlePadding":3}},
"y":{"field":"c","type":"quantitative","scale":{"type":"log","domain":[0.00525,190000],"nice":false},"axis":{"values":[0.01,1,10,100,1000,10000,80000],"labelExpr":"datum.value == 10000 ? '' : datum.value == 80000 ? '80,000' : datum.value == 0.01 ? '0.01' : format(datum.value, 'd')","labelAngle":270,"labelAlign":"center","labelBaseline":"bottom","labelPadding":1,"labelFontSize":10,"title":"Milademetan concentration (ng/mL)","titlePadding":7}},
"detail":{"field":"k"}
},
"layer":[
{"data":{"name":"p3a"},"mark":{"type":"line","clip":true},"encoding":{
"color":{"field":"s","type":"nominal","scale":{"domain":["a","c","b"],"range":["#c8c4bf","#1e1e1e","#b0b0b0"]},"legend":{"title":"Milademetan alone","titleColor":"#222","legendX":6,"legendY":1,"labelExpr":"datum.label == 'a' ? 'Simulated individual trial (N trials=10)' : datum.label == 'b' ? '5th and 95th percentile' : 'Mean of simulated population (N subjects=180)'"}},
"strokeDash":{"field":"s","type":"nominal","scale":{"domain":["a","c","b"],"range":[[1,0],[1,0],[5,3,1,3]]},"legend":{"title":"Milademetan alone","titleColor":"#222","legendX":6,"legendY":1,"labelExpr":"datum.label == 'a' ? 'Simulated individual trial (N trials=10)' : datum.label == 'b' ? '5th and 95th percentile' : 'Mean of simulated population (N subjects=180)'"}},
"strokeWidth":{"field":"s","type":"nominal","scale":{"type":"ordinal","domain":["a","c","b"],"range":[1,2,1]},"legend":{"title":"Milademetan alone","titleColor":"#222","legendX":6,"legendY":1,"labelExpr":"datum.label == 'a' ? 'Simulated individual trial (N trials=10)' : datum.label == 'b' ? '5th and 95th percentile' : 'Mean of simulated population (N subjects=180)'"}}
}},
{"data":{"name":"p3b"},"mark":{"type":"line","clip":true},"encoding":{
"color":{"field":"s","type":"nominal","scale":{"domain":["a","c","b"],"range":["#7fd0cc","#1f7f78","#4cc4c4"]},"legend":{"title":"Milademetan + verapamil","titleColor":"#2a998c","legendX":6,"legendY":37,"labelExpr":"datum.label == 'a' ? 'Simulated individual trial (N trials=10)' : datum.label == 'b' ? '5th and 95th percentile' : 'Mean of simulated population (N subjects=180)'"}},
"strokeDash":{"field":"s","type":"nominal","scale":{"domain":["a","c","b"],"range":[[1,0],[1,0],[5,3,1,3]]},"legend":{"title":"Milademetan + verapamil","titleColor":"#2a998c","legendX":6,"legendY":37,"labelExpr":"datum.label == 'a' ? 'Simulated individual trial (N trials=10)' : datum.label == 'b' ? '5th and 95th percentile' : 'Mean of simulated population (N subjects=180)'"}},
"strokeWidth":{"field":"s","type":"nominal","scale":{"type":"ordinal","domain":["a","c","b"],"range":[1,2,1]},"legend":{"title":"Milademetan + verapamil","titleColor":"#2a998c","legendX":6,"legendY":37,"labelExpr":"datum.label == 'a' ? 'Simulated individual trial (N trials=10)' : datum.label == 'b' ? '5th and 95th percentile' : 'Mean of simulated population (N subjects=180)'"}}
}}
],
"resolve":{"scale":{"color":"independent","strokeDash":"independent","strokeWidth":"independent"}}
}
]
}
